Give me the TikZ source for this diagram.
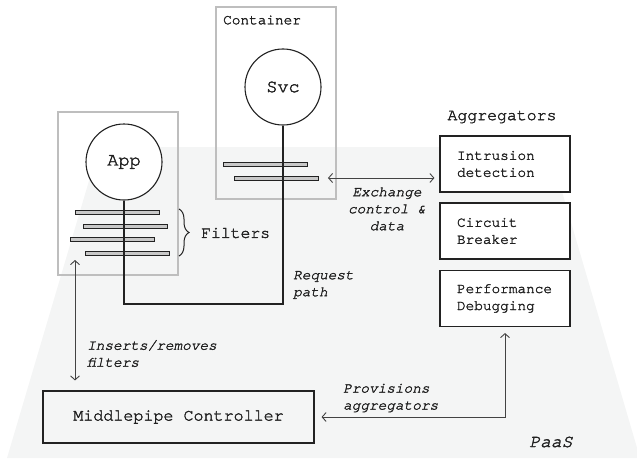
\documentclass[tikz,border=0pt]{standalone}
\usepackage{fontspec}
\setmainfont{TeX Gyre Cursor}[FakeBold=2, ItalicFeatures={FakeBold=2}]
\usetikzlibrary{arrows.meta,decorations.pathreplacing,calc}
\definecolor{paasbg}{RGB}{244,245,245}
\definecolor{ink}{RGB}{34,34,34}
\definecolor{frame}{RGB}{190,190,190}
\definecolor{barfill}{RGB}{200,200,200}
\newcommand{\fsz}[1]{\fontsize{#1}{17}\selectfont}
\begin{document}
\begin{tikzpicture}[x=1pt,y=-1pt,
  every node/.style={inner sep=0pt, text=ink},
  holder/.style={draw=frame, line width=1.5pt, fill=none},
  proc/.style={circle, draw=ink, line width=1.1pt, fill=white, minimum size=76pt, font=\fsz{18.5}},
  filterbar/.style={rectangle, draw=ink, line width=0.9pt, fill=barfill, minimum width=84pt, minimum height=4pt},
  aggbox/.style={rectangle, draw=ink, line width=1.1pt, fill=white, text width=96pt, align=left,
                 inner xsep=17pt, minimum height=56pt, font=\fsz{14.4}},
  note/.style={font=\fsz{14.4}\itshape, align=left},
  wire/.style={draw=ink, line width=1.1pt},
  link/.style={draw=ink!85, line width=0.9pt, {Straight Barb[length=4pt,width=9pt]}-{Straight Barb[length=4pt,width=9pt]}}
]
\useasboundingbox (0,0) rectangle (637,460);
\clip (0,0) rectangle (637,460);

% platform area
\fill[paasbg] (99,147) -- (549,147) -- (640,458) -- (7,458) -- cycle;

% containers
\node[holder, minimum width=120pt, minimum height=192pt] (container) at (276,103) {};
\node[holder, minimum width=120pt, minimum height=163pt] (appbox) at (118,193.5) {};
\node[anchor=west, font=\fsz{14.4}] (containerlbl) at (223,20) {Container};

% service and application
\node[proc] (svc) at (283,87) {Svc};
\node[proc] (app) at (124,162) {App};

% request path
\coordinate (rpL) at (124,304);
\coordinate (rpR) at (283,304);

% filter bars
\node[filterbar] (f1) at (117,212) {};
\node[filterbar] (f2) at (125,226) {};
\node[filterbar] (f3) at (112,239.5) {};
\node[filterbar] (f4) at (127,253) {};
\node[filterbar] (s1) at (265,164.5) {};
\node[filterbar] (s2) at (276.5,178) {};

\draw[wire] (app) -- (rpL) -- (rpR) -- (svc);

% filters brace
\coordinate (brT) at (179,209);
\coordinate (brB) at (179,256);
\draw[ink, line width=1pt, decorate, decoration={brace, amplitude=10pt}] (brT) -- (brB);
\node[anchor=west, font=\fsz{16.4}] (filterslbl) at (201,233) {Filters};

\node[note, anchor=west] (reqlbl) at (293,285) {Request\\path};

% aggregators
\node[font=\fsz{16.5}] (agglbl) at (502,117) {Aggregators};
\node[aggbox] (intr) at (505,164) {Intrusion\\detection};
\node[aggbox] (cb) at (505,231) {Circuit\\Breaker};
\node[aggbox] (perf) at (505,298.5) {Performance\\Debugging};

\draw[link, shorten <=9pt, shorten >=5pt] (s2.east) -- (intr.west |- s2.east);
\node[note, align=center] (exlbl) at (387,209) {Exchange\\control \&\\data};

% controller
\node[rectangle, draw=ink, line width=1.1pt, minimum width=271pt, minimum height=52pt,
      font=\fsz{16.7}] (mpc) at (178.5,417) {Middlepipe Controller};

\coordinate (insTop) at (75,260);
\draw[link, shorten >=10pt] (insTop) -- (mpc.north -| insTop);
\node[note, anchor=west] (inslbl) at (87,353.5) {Inserts/removes\\filters};

\draw[link, shorten <=6pt, shorten >=7pt] (perf.south) |- (mpc.east);
\node[note, anchor=west] (provlbl) at (343,398) {Provisions\\aggregators};

\node[font=\fsz{18}\itshape] (paas) at (551,442) {PaaS};
\end{tikzpicture}
\end{document}
